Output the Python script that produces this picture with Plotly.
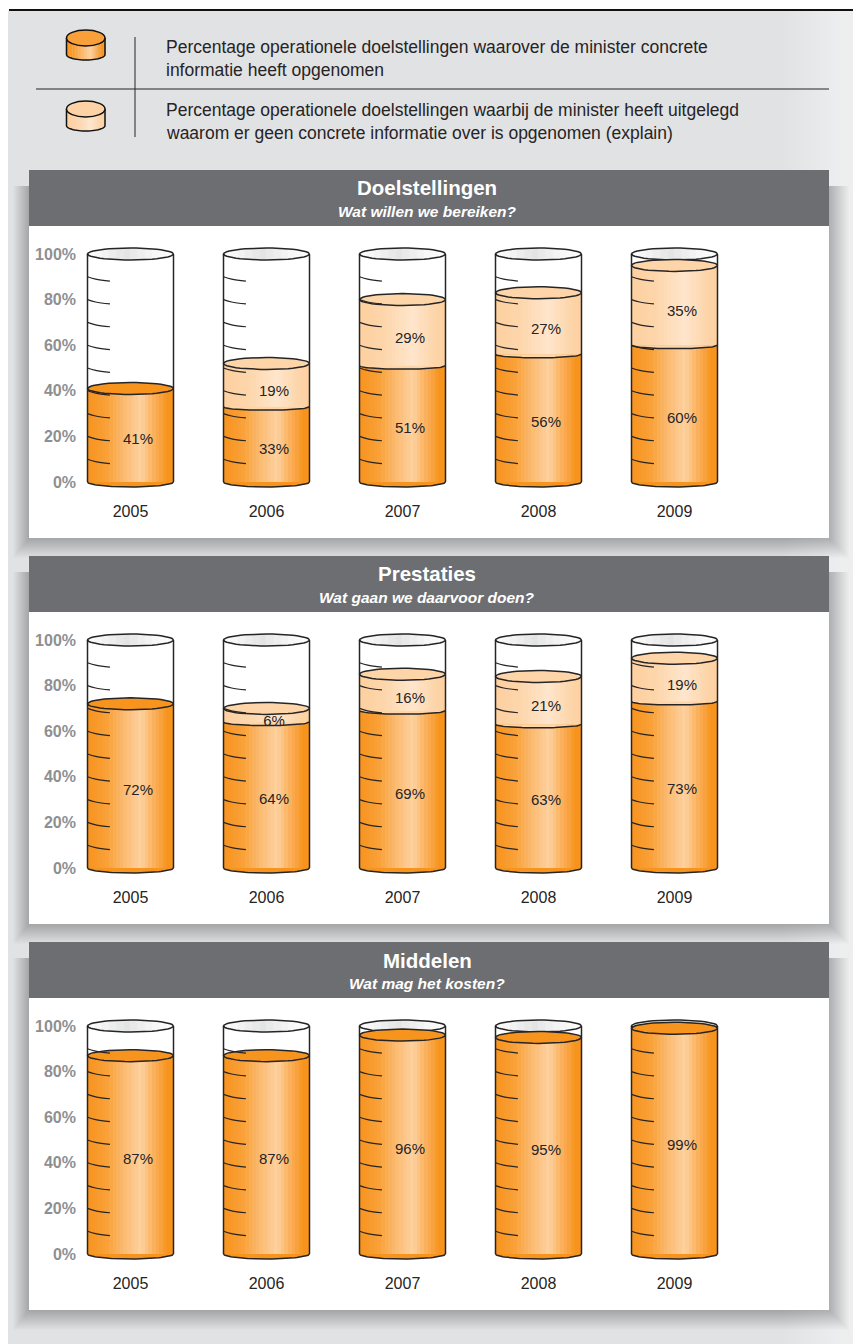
import numpy as np
import plotly.graph_objects as go

YEARS = [2005, 2006, 2007, 2008, 2009]
TITLES = ["Doelstellingen", "Prestaties", "Middelen"]
SUBTITLES = ["Wat willen we bereiken?", "Wat gaan we daarvoor doen?", "Wat mag het kosten?"]
CONCRETE = [
    [41, 33, 51, 56, 60],
    [72, 64, 69, 63, 73],
    [87, 87, 96, 95, 99],
]
EXPLAIN = [
    [0, 19, 29, 27, 35],
    [0, 6, 16, 21, 19],
    [0, 0, 0, 0, 0],
]
LEGEND_LINES = [
    ("Percentage operationele doelstellingen waarover de minister concrete", 47),
    ("informatie heeft opgenomen", 70),
    ("Percentage operationele doelstellingen waarbij de minister heeft uitgelegd", 110),
    ("waarom er geen concrete informatie over is opgenomen (explain)", 133),
]
Y_TICKS = [0, 20, 40, 60, 80, 100]
Y_TICK_TEXT = ["0%", "20%", "40%", "60%", "80%", "100%"]
SCALE_TICKS = [10, 20, 30, 40, 50, 60, 70, 80, 90]

W, H = 853, 1344
FONT = "Liberation Sans"
INK = "#262425"
GREY_BG = "#E1E2E4"
HEADER = "#6D6E71"
DARK_FILL = "#F7941E"
LIGHT_FILL = "#FDD5A8"

PANEL_STEP = 386
HEAD_TOP, HEAD_BOT, PANEL_BOT = 170, 226, 538
PX_PER_PCT = 2.28
ZERO_PX = 482
DOM_TOP, DOM_BOT = 240, 490
X_L, X_R = 80, 829
PX_PER_YEAR = 136
C0 = 130.5
CYL_W = 86 / PX_PER_YEAR
EL_TOP = 6 / PX_PER_PCT
EL_BOT = 5 / PX_PER_PCT
EL_MID = 3.5 / PX_PER_PCT

def yp(px):
    return 1 - px / H
def xp(px):
    return px / W
def lerp_color(c1, c2, t):
    return "rgb(%d,%d,%d)" % tuple(round(a + (b - a) * t) for a, b in zip(c1, c2))
def grad(stops, t):
    for (t0, c0), (t1, c1) in zip(stops, stops[1:]):
        if t <= t1:
            return lerp_color(c0, c1, (t - t0) / (t1 - t0))
    return lerp_color(stops[-1][1], stops[-1][1], 0)

DARK_STOPS = [(0, (247, 148, 30)), (.22, (249, 160, 55)), (.42, (251, 186, 112)), (.62, (254, 210, 160)),
              (.8, (250, 170, 80)), (.93, (247, 148, 30)), (1, (247, 148, 30))]
LIGHT_STOPS = [(0, (253, 208, 158)), (.3, (253, 214, 172)), (.62, (255, 230, 205)),
               (.85, (253, 214, 172)), (1, (253, 208, 158))]
RIM_STOPS = [(0, (255, 255, 255)), (.45, (226, 227, 228)), (.7, (243, 243, 243)), (1, (255, 255, 255))]

def ellipse(xc, yc, b, t0=0.0, t1=2 * np.pi, n=49):
    t = np.linspace(t0, t1, n)
    return list(xc + CYL_W / 2 * np.cos(t)), list(yc + b * np.sin(t))

def collect(items):
    xs, ys = [], []
    for x, y in items:
        xs += x + [None]
        ys += y + [None]
    return xs, ys

fig = go.Figure()
shapes = []

def rect(x0, y0, x1, y1, color, opacity=1, layer="below"):
    shapes.append(dict(type="rect", xref="paper", yref="paper", x0=xp(x0), x1=xp(x1), y0=yp(y0), y1=yp(y1),
                       fillcolor=color, opacity=opacity, line_width=0, layer=layer))

# page background
rect(8, 11, W, H, GREY_BG)
for i in range(14):
    rect(785 + i * 5, 11, W, H, "#ffffff", 0.055)
shapes.append(dict(type="line", xref="paper", yref="paper", x0=xp(9), x1=1, y0=yp(10), y1=yp(10),
                   line=dict(color="#111111", width=2), layer="below"))

# legend icons
L, R = 66.5, 105
RX, RY_T, RY_B = (R - L) / 2, 8, 5.5
for top, bot, stops, fill, surf in [(30, 60, DARK_STOPS, DARK_FILL, "#F9A03A"), (101, 131, LIGHT_STOPS, LIGHT_FILL, "#FDD3A5")]:
    ym = top + RY_T
    yb = bot - RY_B
    n = 26
    for i in range(n):
        x0 = L + (R - L) * i / n
        x1 = L + (R - L) * (i + 1) / n
        u = ((x0 + x1) / 2 - L - RX) / RX
        rect(x0, ym, x1 + .3, yb + RY_B * np.sqrt(max(0, 1 - u * u)), grad(stops, (i + .5) / n), layer="above")
    outline = "M %f %f L %f %f " % (xp(L), yp(ym), xp(L), yp(yb)) + " ".join(
        "L %f %f" % (xp(L + RX + RX * np.cos(t)), yp(yb + RY_B * np.sin(t))) for t in np.linspace(np.pi, 0, 30)
    ) + " L %f %f" % (xp(R), yp(ym))
    shapes.append(dict(type="path", xref="paper", yref="paper", layer="above", path=outline,
                       line=dict(color="#111111", width=1.5)))
    shapes.append(dict(type="circle", xref="paper", yref="paper", layer="above", x0=xp(L), x1=xp(R),
                       y0=yp(top), y1=yp(top + 2 * RY_T), fillcolor=surf, line=dict(color="#111111", width=1.5)))
shapes.append(dict(type="line", xref="paper", yref="paper", x0=xp(36), x1=xp(829), y0=yp(89), y1=yp(89),
                   line=dict(color=INK, width=1), layer="above"))
shapes.append(dict(type="line", xref="paper", yref="paper", x0=xp(135), x1=xp(135), y0=yp(37), y1=yp(137),
                   line=dict(color=INK, width=1), layer="above"))

annotations = []
for text, y in LEGEND_LINES:
    annotations.append(dict(text=text, xref="paper", yref="paper", x=xp(164), y=yp(y), xanchor="left", yanchor="middle",
                            showarrow=False, font=dict(family=FONT, size=17.5, color=INK)))

layout_axes = {}
for p in range(3):
    off = p * PANEL_STEP
    # soft shadow around each panel, heavier to the right and below
    for s in range(20, 0, -1):
        rect(29 - s * 0.8, HEAD_TOP + 16 + off, 829 + s, PANEL_BOT + off + s, "#000000", 0.012)
    rect(29, HEAD_TOP + off, 829, HEAD_BOT + off, HEADER)
    rect(29, HEAD_BOT + off, 829, PANEL_BOT + off, "#ffffff")
    annotations.append(dict(text="<b>%s</b>" % TITLES[p], xref="paper", yref="paper", x=xp(427), y=yp(188 + off),
                            xanchor="center", yanchor="middle", showarrow=False,
                            font=dict(family=FONT, size=20.5, color="#ffffff")))
    annotations.append(dict(text="<b><i>%s</i></b>" % SUBTITLES[p], xref="paper", yref="paper", x=xp(427), y=yp(211 + off),
                            xanchor="center", yanchor="middle", showarrow=False,
                            font=dict(family=FONT, size=15.5, color="#ffffff")))

    sfx = "" if p == 0 else str(p + 1)
    xa, ya = "x" + sfx, "y" + sfx
    layout_axes["xaxis" + sfx] = dict(
        domain=[xp(X_L), xp(X_R)], anchor=ya,
        range=[2005 + (X_L - C0) / PX_PER_YEAR, 2005 + (X_R - C0) / PX_PER_YEAR],
        tickmode="array", tickvals=YEARS, ticktext=[str(v) for v in YEARS],
        showgrid=False, zeroline=False, showline=False, ticks="",
        ticklabelstandoff=10, tickfont=dict(family=FONT, size=16, color=INK))
    layout_axes["yaxis" + sfx] = dict(
        domain=[yp(DOM_BOT + off), yp(DOM_TOP + off)], anchor=xa,
        range=[(ZERO_PX - DOM_BOT) / PX_PER_PCT, (ZERO_PX - DOM_TOP) / PX_PER_PCT],
        tickmode="array", tickvals=Y_TICKS, ticktext=Y_TICK_TEXT,
        showgrid=False, zeroline=False, showline=False, ticks="",
        ticklabelstandoff=3, tickfont=dict(family=FONT, size=16, color="#8E8F92", weight="bold"))

    dark = CONCRETE[p]
    light = EXPLAIN[p]

    # gradient bodies: narrow side-by-side bars
    n = 24
    for i in range(n):
        offs = -CYL_W / 2 + CYL_W * i / n
        t = (i + .5) / n
        fig.add_trace(go.Bar(x=YEARS, y=dark, width=CYL_W / n, offset=offs, xaxis=xa, yaxis=ya,
                             marker=dict(color=grad(DARK_STOPS, t), line_width=0), showlegend=False, hoverinfo="skip"))
        fig.add_trace(go.Bar(x=YEARS, y=light, base=dark, width=CYL_W / n, offset=offs, xaxis=xa, yaxis=ya,
                             marker=dict(color=grad(LIGHT_STOPS, t), line_width=0), showlegend=False, hoverinfo="skip"))

    def poly(items, fill, line_w=1.5):
        xs, ys = collect(items)
        fig.add_trace(go.Scatter(x=xs, y=ys, mode="lines", fill="toself" if fill else "none", fillcolor=fill,
                                 line=dict(color=INK, width=line_w), xaxis=xa, yaxis=ya,
                                 showlegend=False, hoverinfo="skip"))

    # rim: shaded glass opening drawn as vertical slices of the ellipse
    m = 12
    for j in range(m):
        u0, u1 = -1 + 2 * j / m, -1 + 2 * (j + 1) / m
        us = np.linspace(u0, u1, 6)
        hs = np.sqrt(np.clip(1 - us ** 2, 0, 1)) * EL_TOP
        items = []
        for c in YEARS:
            xx = list(c + us * CYL_W / 2)
            items.append((xx + xx[::-1], list(100 + hs) + list(100 - hs[::-1])))
        xs, ys = collect(items)
        col = grad(RIM_STOPS, (j + .5) / m)
        fig.add_trace(go.Scatter(x=xs, y=ys, mode="lines", fill="toself", fillcolor=col, line=dict(color=col, width=.5),
                                 xaxis=xa, yaxis=ya, showlegend=False, hoverinfo="skip"))
    poly([ellipse(c, 100, EL_TOP) for c in YEARS], None)
    poly([ellipse(c, 0, EL_BOT, np.pi, 2 * np.pi) for c in YEARS], DARK_FILL)
    # boundary between the two layers (front arc only)
    both = [(c, d) for c, d, l in zip(YEARS, dark, light) if l > 0]
    if both:
        poly([ellipse(c, d, EL_MID, np.pi, 2 * np.pi) for c, d in both], LIGHT_FILL)
    # liquid surfaces
    poly([ellipse(c, d, EL_TOP) for c, d, l in zip(YEARS, dark, light) if l == 0], DARK_FILL)
    if both:
        poly([ellipse(c, d + l, EL_TOP) for c, d, l in zip(YEARS, dark, light) if l > 0], LIGHT_FILL)

    # scale marks
    marks = []
    for c in YEARS:
        for mk in SCALE_TICKS:
            left = c - CYL_W / 2
            marks.append(([left, left + .06, left + .165], [mk, mk - 1.05, mk - 1.9]))
    xs, ys = collect(marks)
    fig.add_trace(go.Scatter(x=xs, y=ys, mode="lines", line=dict(color=INK, width=1.2, shape="spline"),
                             xaxis=xa, yaxis=ya, showlegend=False, hoverinfo="skip"))

    # cylinder walls
    walls = []
    for c in YEARS:
        walls.append(([c - CYL_W / 2, c - CYL_W / 2], [0, 100]))
        walls.append(([c + CYL_W / 2, c + CYL_W / 2], [0, 100]))
    xs, ys = collect(walls)
    fig.add_trace(go.Scatter(x=xs, y=ys, mode="lines", line=dict(color=INK, width=1.5),
                             xaxis=xa, yaxis=ya, showlegend=False, hoverinfo="skip"))

    # value labels
    lx, ly, lt = [], [], []
    for c, d, l in zip(YEARS, dark, light):
        lx.append(c + .055); ly.append(d / 2 - 2.4); lt.append(f"{d}%")
        if l > 0:
            lx.append(c + .055); ly.append(d + l / 2 - 3); lt.append(f"{l}%")
    fig.add_trace(go.Scatter(x=lx, y=ly, text=lt, mode="text", textposition="middle center",
                             textfont=dict(family=FONT, size=15, color=INK),
                             xaxis=xa, yaxis=ya, showlegend=False, hoverinfo="skip"))

fig.update_layout(width=W, height=H, margin=dict(l=0, r=0, t=0, b=0), autosize=False,
                  paper_bgcolor="#ffffff", plot_bgcolor="rgba(0,0,0,0)", barmode="overlay",
                  bargap=0, shapes=shapes, annotations=annotations, showlegend=False, **layout_axes)

fig.write_html("out.html", config=dict(displayModeBar=False),
               post_script="document.body.style.margin='0';document.body.style.overflow='hidden';")
